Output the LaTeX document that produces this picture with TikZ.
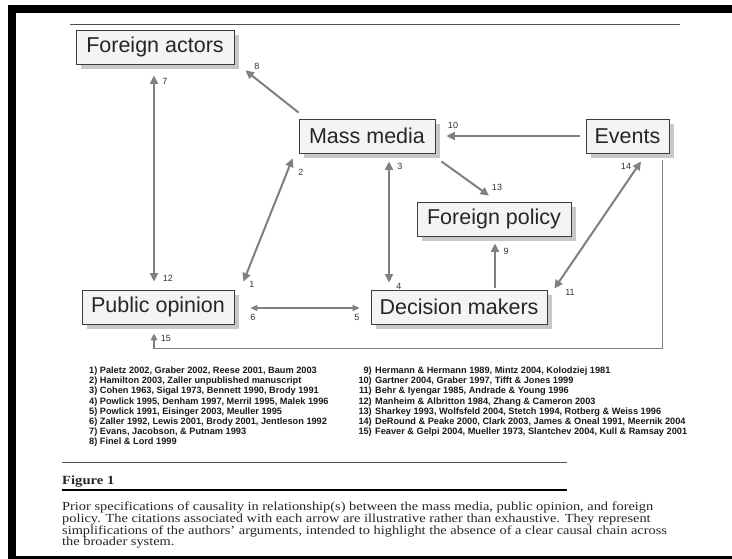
\documentclass[tikz,border=0pt]{standalone}
\usepackage{fontspec}
\newfontfamily\sansf{Liberation Sans}
\newfontfamily\capf[FakeStretch=1.17]{Liberation Serif}
\usetikzlibrary{arrows.meta,calc,shadows}
\definecolor{boxfill}{HTML}{F4F4F4}
\definecolor{boxline}{HTML}{3C3C3C}
\definecolor{shadowc}{HTML}{C8C8C8}
\definecolor{arrc}{HTML}{808080}
\definecolor{labc}{HTML}{333333}
\definecolor{rulec}{HTML}{505050}
\begin{document}
\begin{tikzpicture}[x=1pt,y=-1pt,
  box/.style={draw=boxline, fill=boxfill, line width=0.8pt, minimum height=34pt, inner sep=0pt,
    font=\sansf\fontsize{21.5}{24}\selectfont, text=black!85,
    drop shadow={shadow xshift=5pt, shadow yshift=-5pt, fill=shadowc, opacity=1}},
  arr/.style={draw=arrc, line width=2pt, -{Triangle[length=8.5pt,width=8pt]}},
  darr/.style={draw=arrc, line width=2pt, {Triangle[length=8.5pt,width=8pt]}-{Triangle[length=8.5pt,width=8pt]}},
  thinarr/.style={draw=arrc, line width=1.5pt},
  num/.style={font=\sansf\fontsize{9}{10}\selectfont, text=labc, inner sep=0pt},
  refl/.style={font=\sansf\bfseries\fontsize{9.2}{10}\selectfont, anchor=base west, inner sep=0pt, text=black!90},
  refr/.style={font=\sansf\bfseries\fontsize{9.2}{10}\selectfont, anchor=base east, inner sep=0pt, text=black!90},
  captext/.style={font=\capf\fontsize{12.3}{12}\selectfont, anchor=base west, inner sep=0pt, text=black!85}]
\useasboundingbox (0,0) rectangle (732,559);
\fill[white] (0,0) rectangle (732,559);
\fill[black] (8,5) rectangle (732,559);
\fill[white] (16,13) rectangle (732,556);
% top rule
\draw[rulec, line width=0.9pt] (70,24) -- (680,24);
% boxes
\node[box, minimum width=158pt] (fa) at (155,47) {Foreign actors};
\node[box, minimum width=136pt] (mm) at (367,136) {Mass media};
\node[box, minimum width=83pt] (ev) at (627.5,136) {Events};
\node[box, minimum width=154pt] (fp) at (494,219) {Foreign policy};
\node[box, minimum width=152pt] (po) at (158,307) {Public opinion};
\node[box, minimum width=176pt] (dm) at (459,307) {Decision makers};
% arrows
\draw[darr] ($(fa.south)+(-1,11)$) -- ($(po.north)+(-4,-8)$);
\draw[arr] ($(mm.north west)+(0,-6)$) -- ($(fa.south east)+(11,6)$);
\draw[darr] ($(po.north east)+(9,-8)$) -- ($(mm.south west)+(-6,5)$);
\draw[darr] ($(mm.south)+(22,8)$) -- ($(dm.north)+(-70,-7)$);
\draw[arr] ($(ev.west)+(-6,0)$) -- ($(mm.east)+(11,0)$);
\draw[arr] ($(mm.south east)+(6,8)$) -- ($(fp.north)+(-5,-6)$);
\draw[arr] ($(dm.north)+(36,-2)$) -- ($(fp.south)+(1,7)$);
\draw[darr] ($(ev.south)+(13.5,8)$) -- ($(dm.north east)+(7,-1)$);
\draw[thinarr, {Triangle[length=7pt,width=6pt]}-{Triangle[length=7pt,width=6pt]}] ($(po.east)+(16,1)$) -- ($(dm.west)+(-11,1)$);
\draw[thinarr, -{Triangle[length=7pt,width=6.5pt]}] ($(ev.south east)+(-7,7)$) |- ($(po.south)+(-4,24)$) -- ($(po.south)+(-4,9)$);
% arrow labels
\node[num] (l7) at (165,81) {7};
\node[num] (l12) at (168,278) {12};
\node[num] (l8) at (257,66) {8};
\node[num] (l2) at (301,172) {2};
\node[num] (l1) at (252,284) {1};
\node[num] (l3) at (400,166) {3};
\node[num] (l4) at (399,286) {4};
\node[num] (l10) at (453,125) {10};
\node[num] (l13) at (497,187) {13};
\node[num] (l9) at (506,251) {9};
\node[num] (l14) at (626,166) {14};
\node[num] (l11) at (570,292) {11};
\node[num] (l6) at (253,317) {6};
\node[num] (l5) at (357,317) {5};
\node[num] (l15) at (166,338) {15};
% references, left column
\node[refl] (r1) at (89,373.5) {1) Paletz 2002, Graber 2002, Reese 2001, Baum 2003};
\node[refl] (r2) at (89,383.7) {2) Hamilton 2003, Zaller unpublished manuscript};
\node[refl] (r3) at (89,393.9) {3) Cohen 1963, Sigal 1973, Bennett 1990, Brody 1991};
\node[refl] (r4) at (89,404.1) {4) Powlick 1995, Denham 1997, Merril 1995, Malek 1996};
\node[refl] (r5) at (89,414.3) {5) Powlick 1991, Eisinger 2003, Meuller 1995};
\node[refl] (r6) at (89,424.5) {6) Zaller 1992, Lewis 2001, Brody 2001, Jentleson 1992};
\node[refl] (r7) at (89,434.7) {7) Evans, Jacobson, \& Putnam 1993};
\node[refl] (r8) at (89,444.9) {8) Finel \& Lord 1999};
% references, right column
\node[refr] (n9) at (372,373.5) {9)};
\node[refl] (r9) at (375,373.5) {Hermann \& Hermann 1989, Mintz 2004, Kolodziej 1981};
\node[refr] (n10) at (372,383.7) {10)};
\node[refl] (r10) at (375,383.7) {Gartner 2004, Graber 1997, Tifft \& Jones 1999};
\node[refr] (n11) at (372,393.9) {11)};
\node[refl] (r11) at (375,393.9) {Behr \& Iyengar 1985, Andrade \& Young 1996};
\node[refr] (n12) at (372,404.1) {12)};
\node[refl] (r12) at (375,404.1) {Manheim \& Albritton 1984, Zhang \& Cameron 2003};
\node[refr] (n13) at (372,414.3) {13)};
\node[refl] (r13) at (375,414.3) {Sharkey 1993, Wolfsfeld 2004, Stetch 1994, Rotberg \& Weiss 1996};
\node[refr] (n14) at (372,424.5) {14)};
\node[refl] (r14) at (375,424.5) {DeRound \& Peake 2000, Clark 2003, James \& Oneal 1991, Meernik 2004};
\node[refr] (n15) at (372,434.7) {15)};
\node[refl] (r15) at (375,434.7) {Feaver \& Gelpi 2004, Mueller 1973, Slantchev 2004, Kull \& Ramsay 2001};
% caption
\draw[rulec, line width=0.9pt] (62,462) -- (567,462);
\node[captext, font=\capf\bfseries\fontsize{12.5}{13}\selectfont] (fig) at (62,484) {Figure 1};
\draw[black, line width=1.6pt] (62,490) -- (567,490);
\node[captext] (c1) at (62,510.5) {Prior specifications of causality in relationship(s) between the mass media, public opinion, and foreign};
\node[captext] (c2) at (62,522.3) {policy. The citations associated with each arrow are illustrative rather than exhaustive. They represent};
\node[captext] (c3) at (62,534.1) {simplifications of the authors’ arguments, intended to highlight the absence of a clear causal chain across};
\node[captext] (c4) at (62,545.9) {the broader system.};
\end{tikzpicture}
\end{document}
